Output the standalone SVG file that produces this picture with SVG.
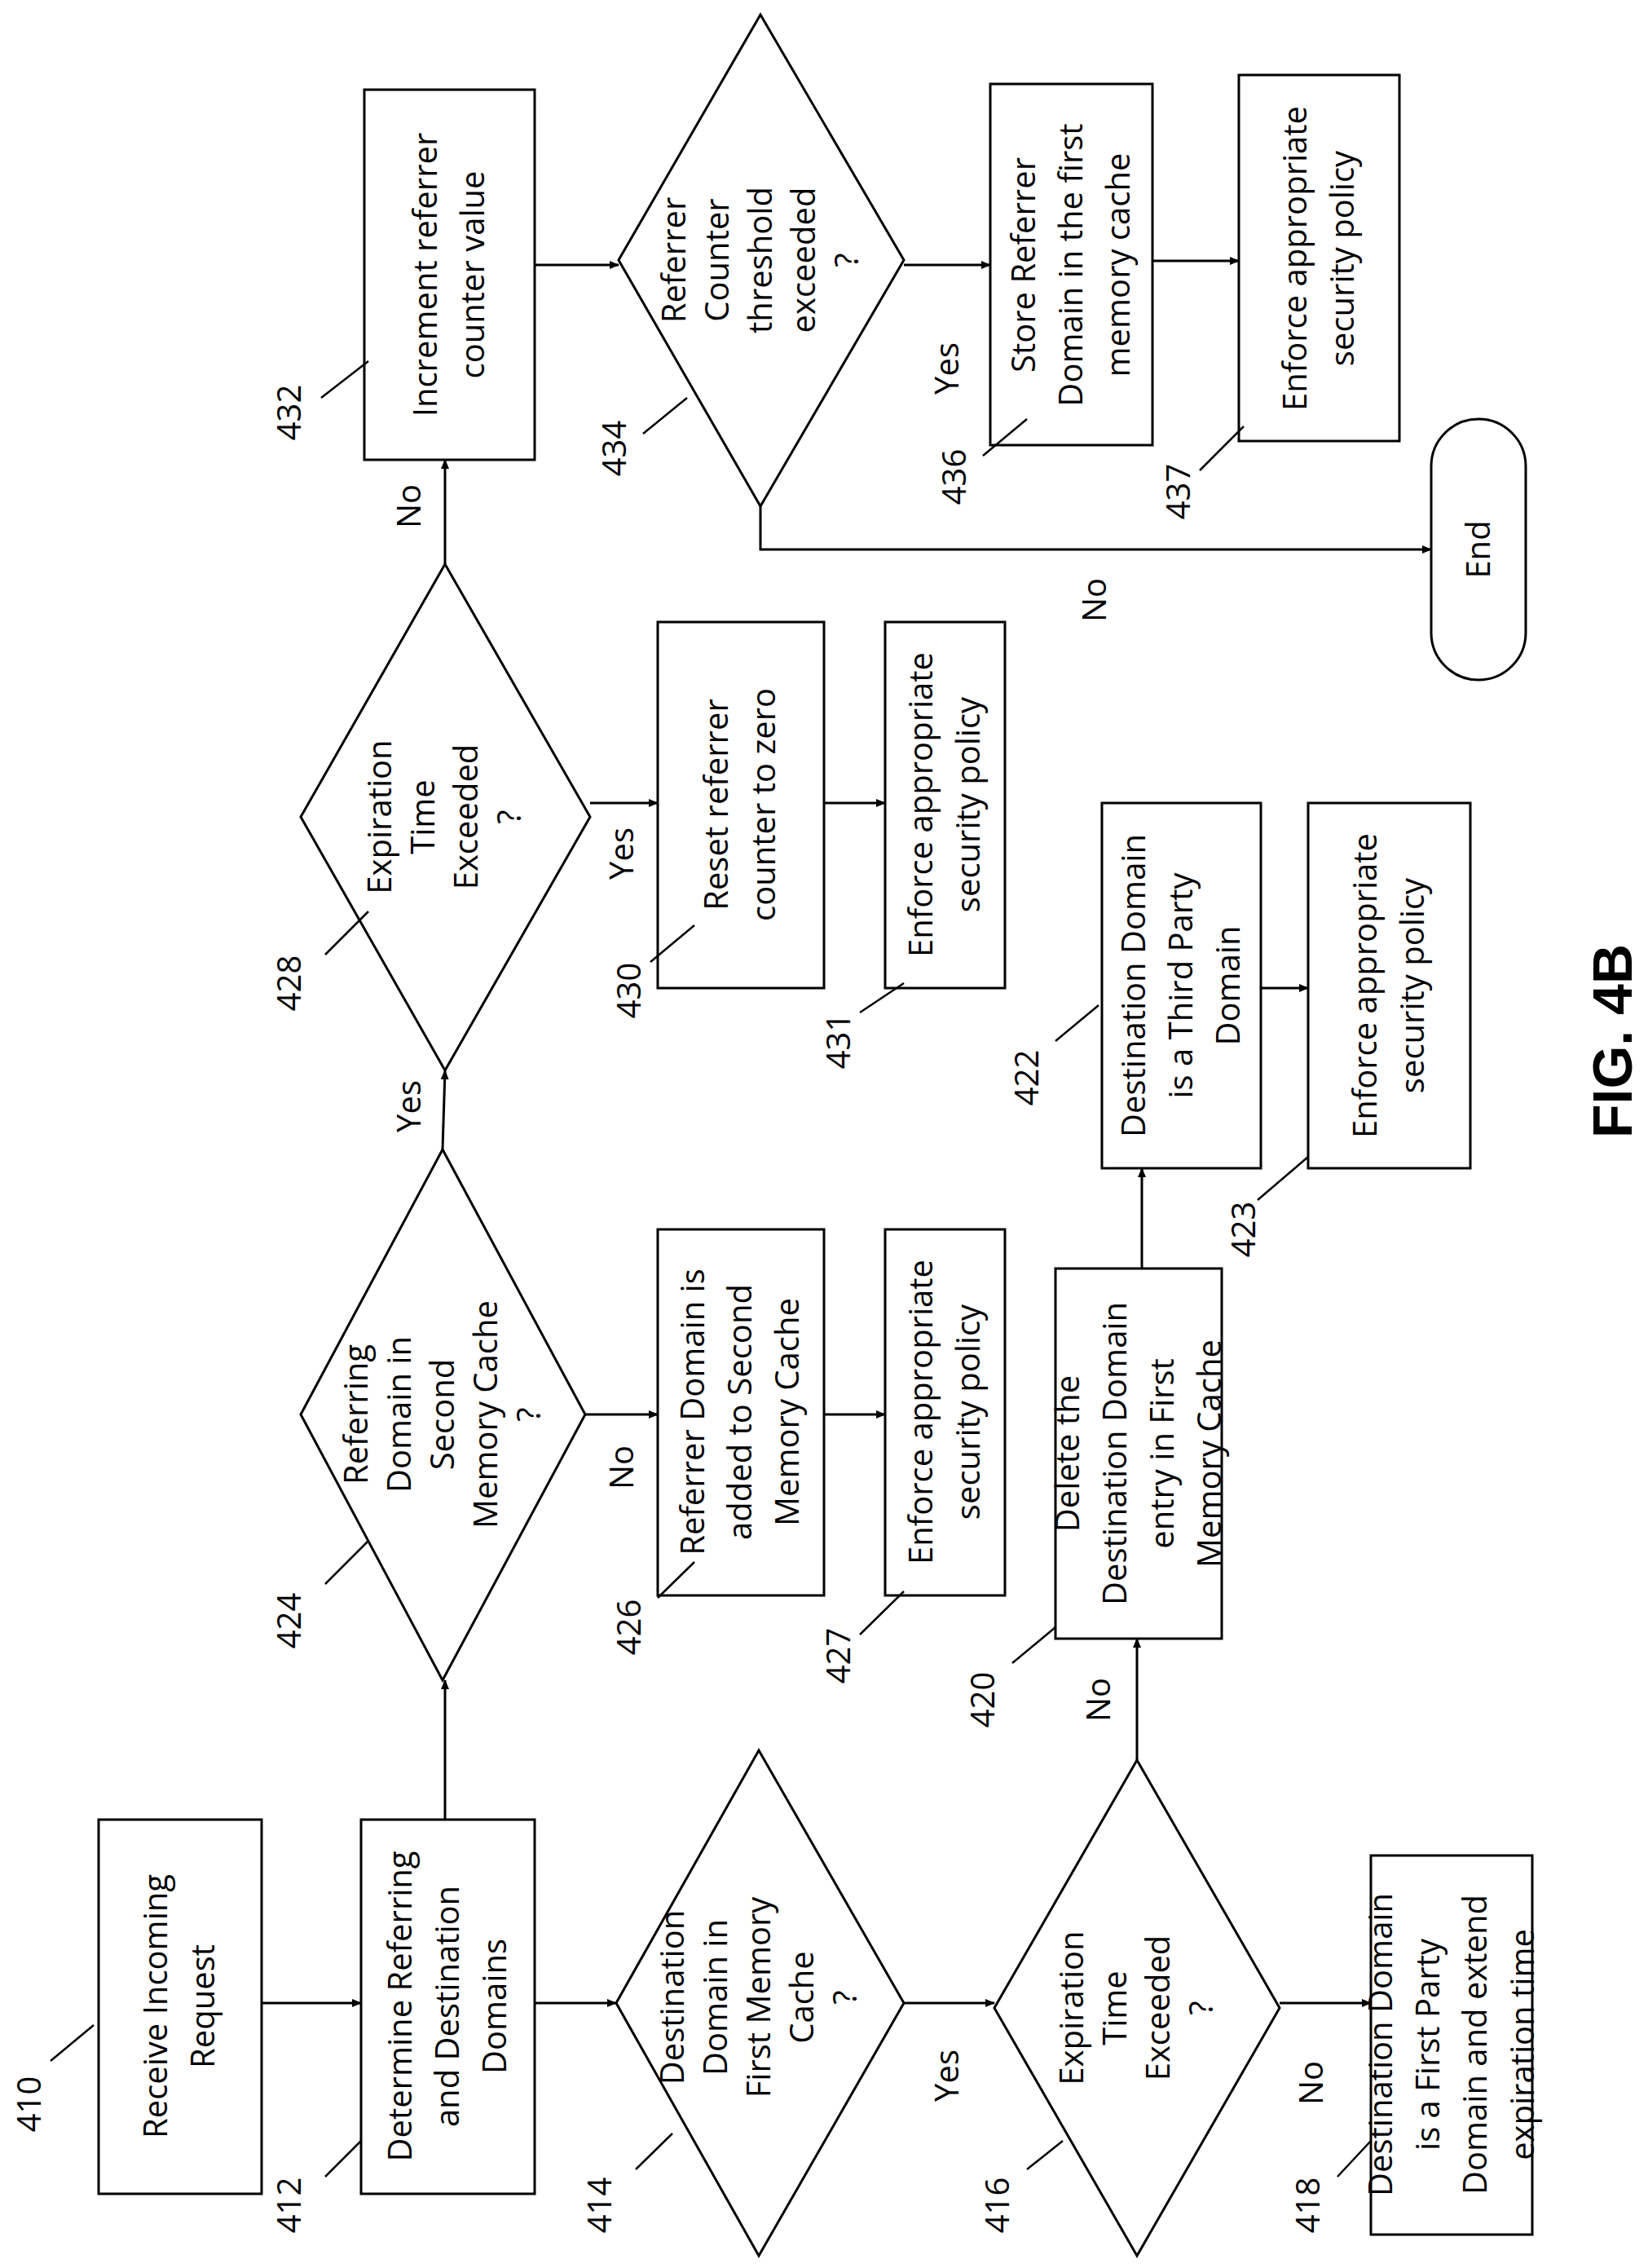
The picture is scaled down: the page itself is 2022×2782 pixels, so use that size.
<svg xmlns="http://www.w3.org/2000/svg" width="2022" height="2782" viewBox="0 0 2022 2782">
<style>
.b{fill:#fff;stroke:#000;stroke-width:3}
.c{fill:none;stroke:#000;stroke-width:3}
text{font-family:"Open Sans","Liberation Sans",sans-serif;font-size:40px;text-anchor:middle;fill:#000}
.l{stroke:#000;stroke-width:2.5;fill:none}
</style>
<defs><marker id="a" markerWidth="12" markerHeight="10" refX="11" refY="5" orient="auto" markerUnits="userSpaceOnUse" viewBox="0 0 12 10"><path d="M0,0 L12,5 L0,10 z" fill="#000"/></marker></defs>
<rect width="2022" height="2782" fill="#fff"/>
<g id="n410"><rect class="b" x="121" y="2232" width="200" height="459"/><text transform="translate(221,2461) rotate(-90)"><tspan x="0" dy="-16">Receive Incoming</tspan><tspan x="0" dy="58">Request</tspan></text></g>
<g id="n412"><rect class="b" x="443" y="2232" width="213" height="459"/><text transform="translate(550,2461) rotate(-90)"><tspan x="0" dy="-45">Determine Referring</tspan><tspan x="0" dy="58">and Destination</tspan><tspan x="0" dy="58">Domains</tspan></text></g>
<g id="n414"><polygon class="b" points="756,2457 931,2147 1109,2457 931,2767"/><text transform="translate(931,2450) rotate(-90)"><tspan x="0" dy="-92">Destination</tspan><tspan x="0" dy="53">Domain in</tspan><tspan x="0" dy="53">First Memory</tspan><tspan x="0" dy="53">Cache</tspan><tspan x="0" dy="53">?</tspan></text></g>
<g id="n416"><polygon class="b" points="1220,2463 1395,2159 1570,2463 1395,2767"/><text transform="translate(1395,2463) rotate(-90)"><tspan x="0" dy="-66">Expiration</tspan><tspan x="0" dy="53">Time</tspan><tspan x="0" dy="53">Exceeded</tspan><tspan x="0" dy="53">?</tspan></text></g>
<g id="n418"><rect class="b" x="1682" y="2276" width="198" height="465"/><text transform="translate(1781,2508) rotate(-90)"><tspan x="0" dy="-73">Destination Domain</tspan><tspan x="0" dy="58">is a First Party</tspan><tspan x="0" dy="58">Domain and extend</tspan><tspan x="0" dy="58">expiration time</tspan></text></g>
<g id="n424"><polygon class="b" points="369,1735 543,1410 718,1735 543,2061"/><text transform="translate(543,1735) rotate(-90)"><tspan x="0" dy="-92">Referring</tspan><tspan x="0" dy="53">Domain in</tspan><tspan x="0" dy="53">Second</tspan><tspan x="0" dy="53">Memory Cache</tspan><tspan x="0" dy="53">?</tspan></text></g>
<g id="n426"><rect class="b" x="807" y="1508" width="204" height="449"/><text transform="translate(909,1732) rotate(-90)"><tspan x="0" dy="-45">Referrer Domain is</tspan><tspan x="0" dy="58">added to Second</tspan><tspan x="0" dy="58">Memory Cache</tspan></text></g>
<g id="n427"><rect class="b" x="1086" y="1508" width="147" height="449"/><text transform="translate(1160,1732) rotate(-90)"><tspan x="0" dy="-16">Enforce appropriate</tspan><tspan x="0" dy="58">security policy</tspan></text></g>
<g id="n420"><rect class="b" x="1295" y="1556" width="204" height="454"/><text transform="translate(1397,1783) rotate(-90)"><tspan x="0" dy="-73">Delete the</tspan><tspan x="0" dy="58">Destination Domain</tspan><tspan x="0" dy="58">entry in First</tspan><tspan x="0" dy="58">Memory Cache</tspan></text></g>
<g id="n422"><rect class="b" x="1352" y="985" width="195" height="448"/><text transform="translate(1450,1209) rotate(-90)"><tspan x="0" dy="-45">Destination Domain</tspan><tspan x="0" dy="58">is a Third Party</tspan><tspan x="0" dy="58">Domain</tspan></text></g>
<g id="n423"><rect class="b" x="1605" y="985" width="199" height="448"/><text transform="translate(1705,1209) rotate(-90)"><tspan x="0" dy="-16">Enforce appropriate</tspan><tspan x="0" dy="58">security policy</tspan></text></g>
<g id="n428"><polygon class="b" points="369,1002 546,692 724,1002 546,1313"/><text transform="translate(546,1002) rotate(-90)"><tspan x="0" dy="-66">Expiration</tspan><tspan x="0" dy="53">Time</tspan><tspan x="0" dy="53">Exceeded</tspan><tspan x="0" dy="53">?</tspan></text></g>
<g id="n430"><rect class="b" x="807" y="763" width="204" height="449"/><text transform="translate(909,987) rotate(-90)"><tspan x="0" dy="-16">Reset referrer</tspan><tspan x="0" dy="58">counter to zero</tspan></text></g>
<g id="n431"><rect class="b" x="1086" y="763" width="147" height="449"/><text transform="translate(1160,987) rotate(-90)"><tspan x="0" dy="-16">Enforce appropriate</tspan><tspan x="0" dy="58">security policy</tspan></text></g>
<g id="n432"><rect class="b" x="447" y="110" width="209" height="454"/><text transform="translate(552,337) rotate(-90)"><tspan x="0" dy="-16">Increment referrer</tspan><tspan x="0" dy="58">counter value</tspan></text></g>
<g id="n434"><polygon class="b" points="759,319 933,18 1109,319 933,621"/><text transform="translate(933,319) rotate(-90)"><tspan x="0" dy="-92">Referrer</tspan><tspan x="0" dy="53">Counter</tspan><tspan x="0" dy="53">threshold</tspan><tspan x="0" dy="53">exceeded</tspan><tspan x="0" dy="53">?</tspan></text></g>
<g id="n436"><rect class="b" x="1215" y="103" width="199" height="443"/><text transform="translate(1315,325) rotate(-90)"><tspan x="0" dy="-45">Store Referrer</tspan><tspan x="0" dy="58">Domain in the first</tspan><tspan x="0" dy="58">memory cache</tspan></text></g>
<g id="n437"><rect class="b" x="1520" y="92" width="197" height="449"/><text transform="translate(1619,317) rotate(-90)"><tspan x="0" dy="-16">Enforce appropriate</tspan><tspan x="0" dy="58">security policy</tspan></text></g>
<g id="end"><rect class="b" x="1756" y="514" width="116" height="320" rx="58"/><text transform="translate(1814,674) rotate(-90)" dy="14">End</text></g>
<g id="connectors">
<path class="c" marker-end="url(#a)" d="M321,2457H443"/>
<path class="c" marker-end="url(#a)" d="M656,2457H756"/>
<path class="c" marker-end="url(#a)" d="M1109,2457H1220"/>
<path class="c" marker-end="url(#a)" d="M1570,2457H1682"/>
<path class="c" marker-end="url(#a)" d="M546,2232V2061"/>
<path class="c" marker-end="url(#a)" d="M718,1735H807"/>
<path class="c" marker-end="url(#a)" d="M1011,1735H1086"/>
<path class="c" marker-end="url(#a)" d="M543,1410L546,1313"/>
<path class="c" marker-end="url(#a)" d="M724,985H807"/>
<path class="c" marker-end="url(#a)" d="M1011,985H1086"/>
<path class="c" marker-end="url(#a)" d="M546,692V564"/>
<path class="c" marker-end="url(#a)" d="M656,325H759"/>
<path class="c" marker-end="url(#a)" d="M1109,325H1215"/>
<path class="c" marker-end="url(#a)" d="M1414,320H1520"/>
<path class="c" marker-end="url(#a)" d="M933,621V674H1756"/>
<path class="c" marker-end="url(#a)" d="M1395,2159V2010"/>
<path class="c" marker-end="url(#a)" d="M1401,1556V1433"/>
<path class="c" marker-end="url(#a)" d="M1547,1212H1605"/>
<text transform="translate(1162,2546) rotate(-90)" dy="14">Yes</text>
<text transform="translate(1609,2555) rotate(-90)" dy="14">No</text>
<text transform="translate(763,1800) rotate(-90)" dy="14">No</text>
<text transform="translate(502,1357) rotate(-90)" dy="14">Yes</text>
<text transform="translate(763,1047) rotate(-90)" dy="14">Yes</text>
<text transform="translate(502,621) rotate(-90)" dy="14">No</text>
<text transform="translate(1162,452) rotate(-90)" dy="14">Yes</text>
<text transform="translate(1343,736) rotate(-90)" dy="14">No</text>
<text transform="translate(1348,2085) rotate(-90)" dy="14">No</text>
</g>
<g id="labels">
<text transform="translate(36,2581) rotate(-90)" dy="14">410</text><path class="l" d="M62,2528L115,2484"/>
<text transform="translate(355,2705) rotate(-90)" dy="14">412</text><path class="l" d="M399,2670L443,2626"/>
<text transform="translate(736,2705) rotate(-90)" dy="14">414</text><path class="l" d="M780,2661L825,2617"/>
<text transform="translate(1224,2705) rotate(-90)" dy="14">416</text><path class="l" d="M1260,2661L1304,2626"/>
<text transform="translate(1605,2705) rotate(-90)" dy="14">418</text><path class="l" d="M1641,2670L1682,2626"/>
<text transform="translate(355,1988) rotate(-90)" dy="14">424</text><path class="l" d="M399,1943L452,1890"/>
<text transform="translate(772,1996) rotate(-90)" dy="14">426</text><path class="l" d="M807,1960L852,1916"/>
<text transform="translate(1029,2031) rotate(-90)" dy="14">427</text><path class="l" d="M1055,2005L1109,1952"/>
<text transform="translate(1206,2085) rotate(-90)" dy="14">420</text><path class="l" d="M1242,2040L1295,1996"/>
<text transform="translate(1260,1322) rotate(-90)" dy="14">422</text><path class="l" d="M1295,1277L1348,1233"/>
<text transform="translate(1526,1508) rotate(-90)" dy="14">423</text><path class="l" d="M1543,1472L1605,1419"/>
<text transform="translate(355,1206) rotate(-90)" dy="14">428</text><path class="l" d="M399,1171L452,1118"/>
<text transform="translate(772,1215) rotate(-90)" dy="14">430</text><path class="l" d="M798,1180L852,1135"/>
<text transform="translate(1029,1277) rotate(-90)" dy="14">431</text><path class="l" d="M1055,1242L1109,1206"/>
<text transform="translate(355,506) rotate(-90)" dy="14">432</text><path class="l" d="M394,488L452,443"/>
<text transform="translate(754,550) rotate(-90)" dy="14">434</text><path class="l" d="M789,532L843,488"/>
<text transform="translate(1171,585) rotate(-90)" dy="14">436</text><path class="l" d="M1206,559L1260,514"/>
<text transform="translate(1446,603) rotate(-90)" dy="14">437</text><path class="l" d="M1472,577L1526,523"/>
</g>
<text transform="translate(1978,1277) rotate(-90)" dy="24" style="font-family:'Liberation Sans',sans-serif;font-weight:bold;font-size:68px">FIG. 4B</text>
</svg>
